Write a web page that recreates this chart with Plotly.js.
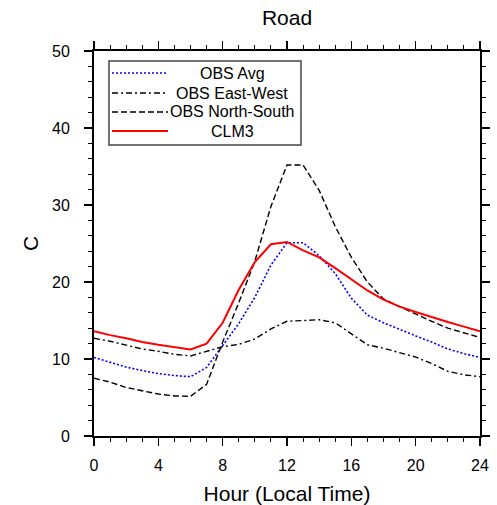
<!DOCTYPE html>
<html>
<head>
<meta charset="utf-8">
<script src="https://cdn.plot.ly/plotly-3.0.1.min.js"></script>
<style>
  html, body { margin: 0; padding: 0; background: #fff; }
  #chart { width: 497px; height: 505px; }
</style>
</head>
<body>
<div id="chart"></div>
<script>
// Hours (local time)
const hours = [0,1,2,3,4,5,6,7,8,9,10,11,12,13,14,15,16,17,18,19,20,21,22,23,24];

// Series values (degrees C)
const obsAvg = [10.2, 9.6, 8.95, 8.5, 8.1, 7.85, 7.7, 8.9, 11.8, 14.6, 18.0, 22.2, 25.1, 25.1, 23.4, 21.1, 17.9, 15.7, 14.7, 13.8, 13.0, 12.2, 11.3, 10.7, 10.2];
const obsEastWest = [12.7, 12.3, 11.8, 11.3, 11.0, 10.6, 10.4, 11.0, 11.6, 11.9, 12.6, 13.9, 14.9, 15.0, 15.1, 14.7, 13.3, 11.85, 11.4, 10.85, 10.25, 9.4, 8.4, 7.95, 7.7];
const obsNorthSouth = [7.5, 7.0, 6.3, 5.9, 5.45, 5.2, 5.15, 6.7, 12.2, 17.3, 22.7, 29.8, 35.2, 35.2, 31.9, 27.2, 23.2, 20.0, 17.8, 16.8, 15.8, 14.9, 14.0, 13.4, 12.8];
const clm3 = [13.6, 13.1, 12.7, 12.2, 11.85, 11.5, 11.25, 12.0, 14.7, 19.0, 22.6, 24.9, 25.2, 24.1, 23.2, 21.8, 20.4, 18.9, 17.7, 16.8, 16.1, 15.4, 14.8, 14.2, 13.6];

// Labels
const seriesNames = ["OBS Avg", "OBS East-West", "OBS North-South", "CLM3"];
const xTickVals = [0, 4, 8, 12, 16, 20, 24];
const yTickVals = [0, 10, 20, 30, 40, 50];

const styles = [
  {color: "#0000ff", width: 1.6, dash: "2px,2px"},
  {color: "#000000", width: 1.4, dash: "6px,3px,2px,3px"},
  {color: "#000000", width: 1.4, dash: "6px,3px"},
  {color: "#ff0000", width: 2.0, dash: "solid"}
];
const seriesData = [obsAvg, obsEastWest, obsNorthSouth, clm3];

const traces = seriesData.map((ys, i) => ({
  x: hours, y: ys, type: "scatter", mode: "lines", name: seriesNames[i],
  line: styles[i], showlegend: false, hoverinfo: "skip"
}));

// Manual legend (box, line samples, centered labels) in paper coordinates
const W = 386, H = 385; // plot area size in px
const px = v => v / W, py = v => 1 - v / H;
const legLeft = 15, legRight = 207, legTop = 10, legBottom = 94;
const rowY = [22, 42, 61, 80];
const shapes = [{
  type: "rect", xref: "paper", yref: "paper",
  x0: px(legLeft), x1: px(legRight), y0: py(legBottom), y1: py(legTop),
  line: {color: "#444", width: 1.5}, fillcolor: "rgba(255,255,255,0)"
}];
const annotations = [];
seriesNames.forEach((name, i) => {
  shapes.push({
    type: "line", xref: "paper", yref: "paper",
    x0: px(18), x1: px(74), y0: py(rowY[i]), y1: py(rowY[i]),
    line: {color: styles[i].color, width: styles[i].width, dash: styles[i].dash}
  });
  annotations.push({
    xref: "paper", yref: "paper", x: px(138), y: py(rowY[i]),
    xanchor: "center", yanchor: "middle", showarrow: false,
    text: name, font: {family: "Liberation Sans, Arial, sans-serif", size: 16, color: "#000"}
  });
});

const axisCommon = {
  showgrid: false, zeroline: false, showline: true, linecolor: "#000", linewidth: 2,
  mirror: "ticks", ticks: "outside", ticklen: 8, tickwidth: 1.5, tickcolor: "#000",
  tickfont: {family: "Liberation Sans, Arial, sans-serif", size: 16, color: "#000"},
  fixedrange: true
};

const layout = {
  width: 497, height: 505,
  margin: {l: 94, r: 17, t: 51, b: 69, pad: 0},
  paper_bgcolor: "#fff", plot_bgcolor: "#fff",
  font: {family: "Liberation Sans, Arial, sans-serif", color: "#000"},
  title: {
    text: "Road", x: 0.5, xref: "paper", xanchor: "center",
    y: 1 - 18 / 505, yref: "container", yanchor: "middle",
    font: {size: 21, color: "#000"}
  },
  xaxis: Object.assign({}, axisCommon, {
    range: [0, 24], tickvals: xTickVals, ticktext: xTickVals.map(String),
    minor: {dtick: 1, ticks: "outside", ticklen: 4, tickwidth: 1, tickcolor: "#000"},
    ticklabelstandoff: 6,
    title: {text: "Hour (Local Time)", font: {size: 21, color: "#000"}, standoff: 13}
  }),
  yaxis: Object.assign({}, axisCommon, {
    range: [0, 50], tickvals: yTickVals, ticktext: yTickVals.map(String),
    minor: {dtick: 2, ticks: "outside", ticklen: 4, tickwidth: 1, tickcolor: "#000"},
    ticklabelstandoff: 11,
    title: {text: "C", font: {size: 21, color: "#000"}, standoff: 8}
  }),
  shapes: shapes,
  annotations: annotations,
  showlegend: false
};

Plotly.newPlot("chart", traces, layout, {staticPlot: true, displayModeBar: false});
</script>
</body>
</html>
